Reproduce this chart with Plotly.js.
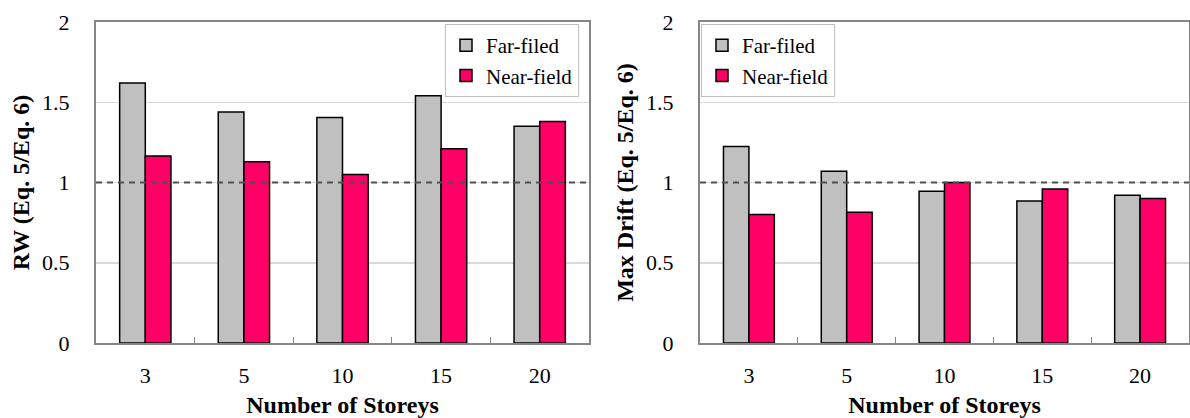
<!DOCTYPE html>
<html>
<head>
<meta charset="utf-8">
<script src="https://cdn.plot.ly/plotly-3.0.1.min.js"></script>
<style>
  html, body { margin: 0; padding: 0; background: #fff; }
  #chart { width: 1190px; height: 418px; }
  #chart svg text { font-family: "Liberation Serif", "Times New Roman", serif !important; }
</style>
</head>
<body>
<div id="chart"></div>
<script>
// Number of storeys (categories shared by both panels)
const storeys = ['3', '5', '10', '15', '20'];

// Left panel: RW ratio (Eq. 5 / Eq. 6)
const rwFarField = [1.62, 1.44, 1.405, 1.54, 1.35];
const rwNearField = [1.165, 1.13, 1.05, 1.21, 1.38];

// Right panel: maximum drift ratio (Eq. 5 / Eq. 6)
const driftFarField = [1.225, 1.07, 0.945, 0.885, 0.92];
const driftNearField = [0.80, 0.815, 1.0, 0.96, 0.90];

const seriesNames = ['Far-filed', 'Near-field'];
const yTitles = ['RW (Eq. 5/Eq. 6)', 'Max Drift (Eq. 5/Eq. 6)'];
const xTitle = 'Number of Storeys';

const GREY = '#c0c0c0';
const PINK = '#ff0066';
const SERIF = 'Liberation Serif';

function bar(x, y, name, color, xa, ya, legend) {
  return {
    type: 'bar', x: x, y: y, name: name,
    xaxis: xa, yaxis: ya, legend: legend,
    marker: { color: color, line: { color: '#000', width: 1.5 } },
    hoverinfo: 'x+y+name'
  };
}

const traces = [
  bar(storeys, rwFarField, seriesNames[0], GREY, 'x', 'y', 'legend'),
  bar(storeys, rwNearField, seriesNames[1], PINK, 'x', 'y', 'legend'),
  bar(storeys, driftFarField, seriesNames[0], GREY, 'x2', 'y2', 'legend2'),
  bar(storeys, driftNearField, seriesNames[1], PINK, 'x2', 'y2', 'legend2')
];

const tickFont = { family: SERIF, size: 22, color: '#000' };
const titleFont = { family: SERIF, size: 24, color: '#000', weight: 'bold' };

function xAxis(domain, anchor) {
  return {
    domain: domain, anchor: anchor, type: 'category',
    showline: true, linecolor: '#868686', linewidth: 2, mirror: true,
    ticks: 'inside', tickson: 'boundaries', ticklen: 6, tickcolor: '#868686', tickwidth: 1,
    showgrid: false, zeroline: false,
    tickfont: tickFont, ticklabelstandoff: 12,
    title: { text: xTitle, font: titleFont, standoff: 12 },
    automargin: false, fixedrange: true
  };
}

function yAxis(domain, anchor, title) {
  return {
    domain: domain, anchor: anchor, range: [0, 2], dtick: 0.5,
    showline: true, linecolor: '#868686', linewidth: 2, mirror: true,
    ticks: '', showgrid: true, gridcolor: '#d9d9d9', gridwidth: 1.5,
    zeroline: false, tickfont: tickFont, ticklabelstandoff: 20,
    title: { text: title, font: titleFont, standoff: 6 },
    automargin: false, fixedrange: true
  };
}

const yDom = [75 / 418, 396 / 418];

function legendBox(xPx) {
  return {
    x: xPx / 1190, y: 1 - 24 / 418, xanchor: 'left', yanchor: 'top',
    bgcolor: '#fff', bordercolor: '#c0c0c0', borderwidth: 1,
    font: { family: SERIF, size: 21, color: '#000' },
    tracegroupgap: 0, itemwidth: 30, orientation: 'v'
  };
}

function refLine(xref, yref) {
  return {
    type: 'line', xref: xref, yref: yref,
    x0: 0, x1: 1, y0: 1, y1: 1,
    line: { color: '#505050', width: 2, dash: '6px,5px' },
    layer: 'above'
  };
}

const layout = {
  width: 1190, height: 418,
  margin: { l: 0, r: 0, t: 0, b: 0 },
  paper_bgcolor: '#fff', plot_bgcolor: '#fff',
  font: { family: SERIF, color: '#000' },
  barmode: 'group', bargap: 0.48, bargroupgap: 0,
  xaxis: xAxis([96 / 1190, 589 / 1190], 'y'),
  yaxis: yAxis(yDom, 'x', yTitles[0]),
  xaxis2: xAxis([700 / 1190, 1189 / 1190], 'y2'),
  yaxis2: yAxis(yDom, 'x2', yTitles[1]),
  legend: legendBox(445),
  legend2: legendBox(701),
  shapes: [refLine('x domain', 'y'), refLine('x2 domain', 'y2')],
  showlegend: true
};

Plotly.newPlot('chart', traces, layout, { displayModeBar: false, staticPlot: true });
</script>
</body>
</html>
